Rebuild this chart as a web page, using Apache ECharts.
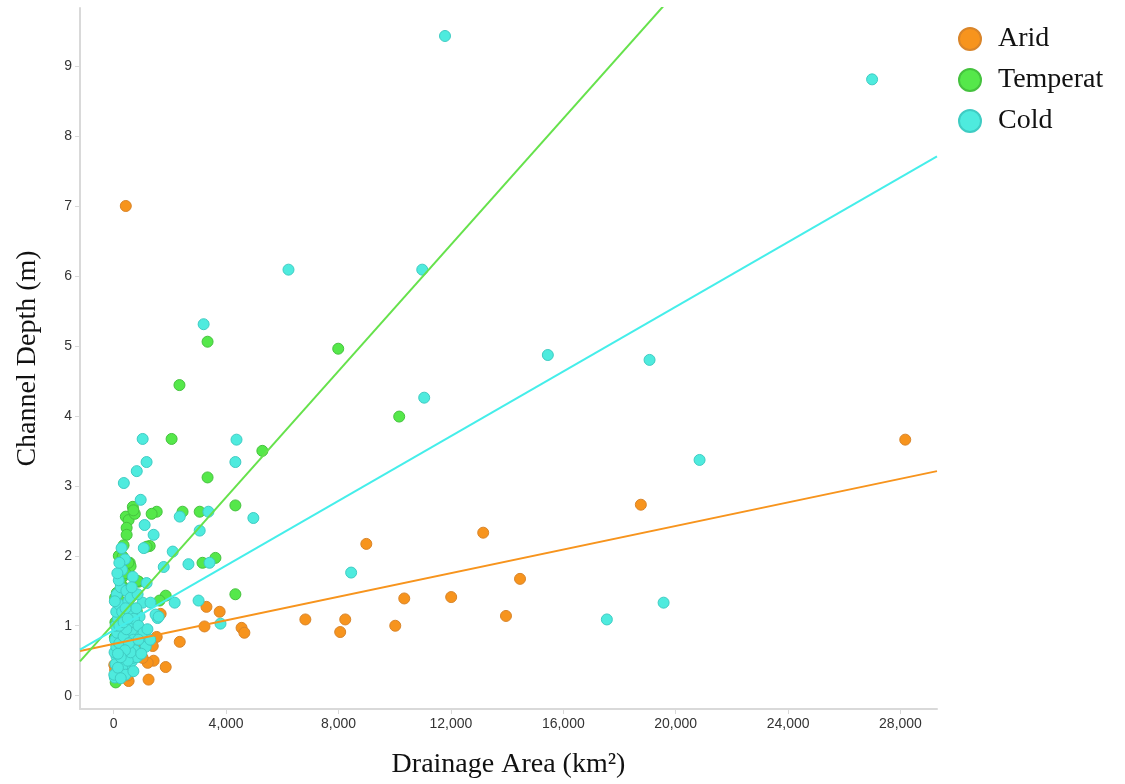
<!DOCTYPE html>
<html>
<head>
<meta charset="utf-8">
<script src="https://cdn.jsdelivr.net/npm/echarts@6/dist/echarts.min.js"></script>
<style>
html,body{margin:0;padding:0;background:#fff;}
#chart{width:1125px;height:784px;}
</style>
</head>
<body>
<div id="chart"></div>
<script>
// ---- Data (Drainage Area km², Channel Depth m) ----
const seriesNames = ['Arid', 'Temperat', 'Cold'];

const arid = [
  [430,7.0],[28170,3.66],[18760,2.73],[13150,2.33],[8990,2.17],[14460,1.67],[10340,1.39],[12010,1.41],
  [13960,1.14],[10020,1.0],[8240,1.09],[8060,0.91],[6820,1.09],[4550,0.97],[4650,0.9],[3300,1.27],
  [3770,1.2],[3230,0.99],[2350,0.77],[1670,1.17],[1530,0.84],[1390,0.71],[1420,0.5],[1850,0.41],
  [1240,0.23],[1210,0.47],[1030,0.54],[530,0.21],[500,0.29],[320,0.91],[390,0.77],[750,0.69],
  [640,0.56],[290,0.61],[680,0.76],[460,0.83],[20,0.44],[50,0.37],[300,0.65],[560,0.62],[900,0.6],
  [380,0.95],[200,0.72],[210,0.9]
];

const temperat = [
  [3340,5.06],[7990,4.96],[2340,4.44],[10160,3.99],[2060,3.67],[5290,3.5],[3340,3.12],[4330,2.72],
  [2450,2.63],[3060,2.63],[1530,2.63],[1350,2.6],[3160,1.9],[3620,1.97],[4330,1.45],[1850,1.43],
  [1630,1.36],[1280,2.14],[680,2.7],[430,2.56],[530,2.51],[750,2.6],[1170,2.13],[460,2.4],[460,2.3],
  [180,2.0],[320,1.99],[570,1.9],[280,1.8],[320,1.7],[890,1.63],[850,1.64],[210,1.49],[390,1.54],
  [110,1.47],[180,1.37],[50,1.4],[820,1.21],[500,1.27],[750,1.23],[460,1.13],[780,0.99],[640,1.01],
  [110,0.8],[40,0.83],[320,0.59],[920,0.61],[70,0.19],[380,1.16],[600,1.85],[250,1.6],[420,1.75],
  [150,1.2],[60,1.05],[520,1.9],[350,2.15],[700,2.65]
];

const cold = [
  [11790,9.43],[26990,8.81],[6220,6.09],[10980,6.09],[3200,5.31],[15450,4.87],[19070,4.8],[11050,4.26],
  [1030,3.67],[4370,3.66],[1170,3.34],[4330,3.34],[20850,3.37],[360,3.04],[820,3.21],[960,2.8],
  [4970,2.54],[3370,2.63],[2350,2.56],[1420,2.3],[3060,2.36],[2100,2.06],[1780,1.84],[2660,1.88],
  [3410,1.9],[3020,1.36],[2170,1.33],[8450,1.76],[3800,1.03],[17550,1.09],[19570,1.33],[1560,1.11],
  [1100,2.44],[1070,2.11],[1030,1.33],[1310,1.33],[280,2.11],[680,1.7],[1170,1.61],[500,1.49],
  [1490,1.16],[1600,1.13],[920,1.13],[1140,0.7],[640,0.49],[390,0.44],[110,0.34],[40,0.26],
  [100,0.56],[680,0.54],[20,0.3],[60,0.45],[30,0.62],[90,0.7],[50,0.8],[120,0.9],[70,1.0],[150,1.1],
  [90,1.2],[200,1.3],[110,1.45],[250,1.55],[180,1.65],[300,1.8],[400,1.95],[450,1.5],[520,1.35],
  [560,1.2],[600,1.0],[650,0.9],[700,0.8],[760,0.65],[820,0.55],[300,0.4],[420,0.3],[500,0.5],
  [600,0.62],[720,1.1],[800,1.25],[880,1.0],[960,0.85],[1060,0.9],[1200,0.95],[200,0.75],[350,0.85],
  [450,0.95],[540,0.75],[200,1.0],[300,1.2],[420,1.25],[880,0.8],[980,0.6],[1300,0.8],[400,0.65],
  [150,0.4],[250,0.55],[700,0.35],[350,1.05],[600,1.4],[850,1.45],[250,0.25],[150,0.6],[500,1.1],
  [40,1.35],[130,1.75],[200,1.9],[640,1.55]
];

// Trend line endpoints
const aridTrend = [[-1200, 0.64], [29300, 3.21]];
const temperatTrend = [[-1200, 0.49], [29300, 14.25]];
const coldTrend = [[-1200, 0.66], [29300, 7.71]];

// Axis settings
const xMin = -1200, xMax = 29300, xStep = 4000;
const yMin = -0.19, yMax = 9.83;

const fills = ['#F7941D', '#55E84A', '#4EEBDE'];
const borders = ['#D9852A', '#45C23E', '#3FCCC3'];
const lineColors = ['#F7941D', '#66E24C', '#45EEEA'];

const chart = echarts.init(document.getElementById('chart'));

const scatterData = [arid, temperat, cold];
const trendData = [aridTrend, temperatTrend, coldTrend];

const scatterSeries = seriesNames.map((n, i) => ({
  name: n,
  type: 'scatter',
  data: scatterData[i],
  symbolSize: 11,
  itemStyle: { color: fills[i], borderColor: borders[i], borderWidth: 1, opacity: 1 },
  z: 3,
  emphasis: { disabled: true }
}));

const trendSeries = seriesNames.map((n, i) => ({
  name: n + ' trend',
  type: 'line',
  data: trendData[i],
  showSymbol: false,
  symbol: 'none',
  lineStyle: { color: lineColors[i], width: 2 },
  clip: true,
  z: 4,
  silent: true
}));

const axisCommon = {
  splitLine: { show: false },
  axisLine: { show: true, onZero: false, lineStyle: { color: '#d9d9d9', width: 2 } },
  axisTick: { show: true, length: 5, lineStyle: { color: '#d9d9d9' } }
};

const option = {
  backgroundColor: '#ffffff',
  animation: false,
  grid: { left: 80, right: 188, top: 8, bottom: 75, containLabel: false },
  legend: {
    orient: 'vertical',
    left: 953,
    top: 20,
    itemWidth: 22,
    itemHeight: 22,
    itemGap: 13,
    icon: 'circle',
    data: seriesNames,
    textStyle: { fontFamily: 'Liberation Serif', fontSize: 28, color: '#111', padding: [0, 0, 0, 12] }
  },
  xAxis: Object.assign({
    type: 'value',
    min: xMin,
    max: xMax,
    minInterval: xStep,
    maxInterval: xStep,
    name: 'Drainage Area (km²)',
    nameLocation: 'middle',
    nameGap: 42,
    nameTextStyle: { fontFamily: 'Liberation Serif', fontSize: 28, color: '#111' },
    axisLabel: {
      showMinLabel: false, showMaxLabel: false,
      margin: 8,
      fontFamily: 'Liberation Sans', fontSize: 14, color: '#333',
      formatter: v => (v % xStep === 0) ? v.toLocaleString('en-US') : ''
    }
  }, axisCommon),
  yAxis: Object.assign({
    type: 'value',
    min: yMin,
    max: yMax,
    splitNumber: 10,
    minInterval: 1,
    maxInterval: 1,
    name: 'Channel Depth (m)',
    nameLocation: 'middle',
    nameGap: 38,
    nameTextStyle: { fontFamily: 'Liberation Serif', fontSize: 28, color: '#111' },
    axisLabel: {
      showMinLabel: false, showMaxLabel: false,
      margin: 8,
      fontFamily: 'Liberation Sans', fontSize: 14, color: '#333',
      formatter: v => (Math.abs(v - Math.round(v)) < 1e-6) ? String(Math.round(v)) : ''
    }
  }, axisCommon),
  series: [...scatterSeries, ...trendSeries]
};

chart.setOption(option);
</script>
</body>
</html>
